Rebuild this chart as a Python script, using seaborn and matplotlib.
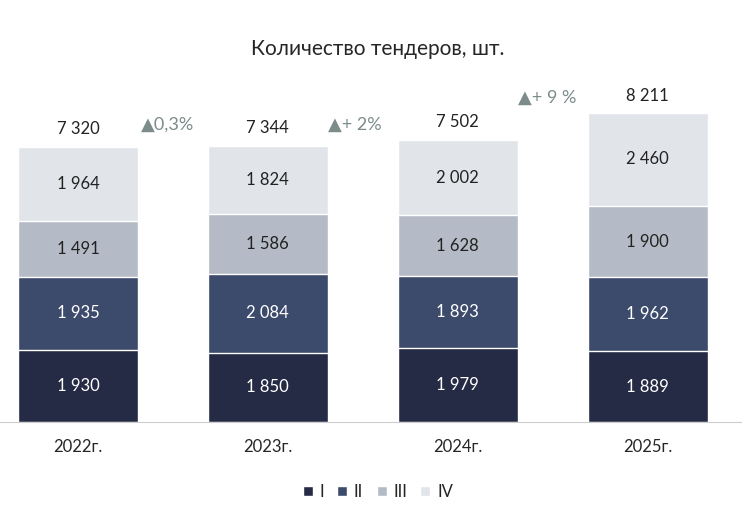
import matplotlib
matplotlib.use("Agg")
import matplotlib.pyplot as plt
import seaborn as sns
import pandas as pd

years = ["2022г.", "2023г.", "2024г.", "2025г."]
q1 = [1930, 1850, 1979, 1889]
q2 = [1935, 2084, 1893, 1962]
q3 = [1491, 1586, 1628, 1900]
q4 = [1964, 1824, 2002, 2460]
totals = ["7 320", "7 344", "7 502", "8 211"]
growth = ["▲0,3%", "▲+ 2%", "▲+ 9 %"]
names = ["I", "II", "III", "IV"]
colors = ["#262b45", "#3c4a6c", "#b5bbc6", "#e1e4e9"]

sns.set_style("white")
plt.rcParams["font.family"] = ["Lato", "DejaVu Sans"]

series = [q1, q2, q3, q4]
cum = []
run = [0, 0, 0, 0]
for s in series:
    run = [a + b for a, b in zip(run, s)]
    cum.append(run)

fig = plt.figure(figsize=(7.56, 5.18), dpi=100)
ax = fig.add_axes([0.0, 0.185, 0.98, 0.5965])

for i in range(3, -1, -1):
    df = pd.DataFrame({"year": years, "v": cum[i]})
    sns.barplot(data=df, x="year", y="v", color=colors[i], width=0.63,
                saturation=1, ax=ax, label=names[i])

for i, s in enumerate(series):
    for j, v in enumerate(s):
        mid = cum[i][j] - v / 2
        txt = f"{v:,}".replace(",", " ")
        ax.text(j, mid, txt, ha="center", va="center", fontsize=12,
                color="white" if i < 2 else "#222222")

for j, t in enumerate(totals):
    ax.text(j, cum[3][j] + 250, t, ha="center", va="bottom", fontsize=12, color="#222222")

gpos = [(0.47, 7700), (1.46, 7700), (2.47, 8400)]
for g, (x, y) in zip(growth, gpos):
    ax.text(x, y, g, ha="center", va="bottom", fontsize=13, color="#7c8c8b")

ax.set_xlim(-0.41, 3.49)
ax.set_ylim(0, 8211)
ax.set_xlabel("")
ax.set_ylabel("")
ax.set_yticks([])
for sp in ["top", "right", "left"]:
    ax.spines[sp].set_visible(False)
ax.spines["bottom"].set_color("#cccccc")
ax.tick_params(axis="x", length=0, labelsize=12, pad=12)

handles, labels = ax.get_legend_handles_labels()
order = [labels.index(n) for n in names]
ax.legend([handles[k] for k in order], names, loc="center", bbox_to_anchor=(0.51, -0.225),
          ncol=4, frameon=False, handlelength=0.6, handleheight=0.6,
          columnspacing=0.8, handletextpad=0.4, fontsize=12)

fig.suptitle("Количество тендеров, шт.", y=0.925, fontsize=15)
fig.savefig("out.png", dpi=100)
